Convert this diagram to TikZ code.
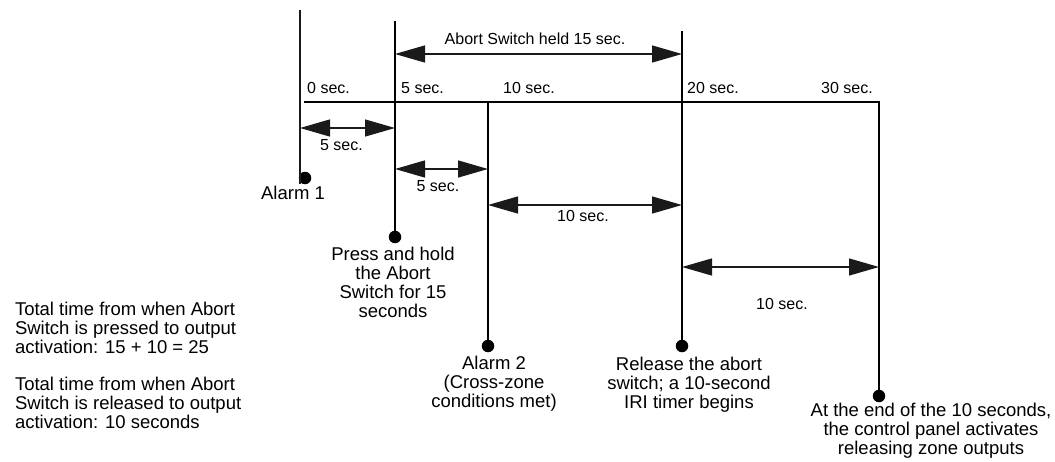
\documentclass[tikz,border=0pt]{standalone}
\usepackage{fontspec}
\setmainfont{Liberation Sans}
\usetikzlibrary{positioning,arrows.meta}
\definecolor{ink}{HTML}{000000}
\definecolor{shaft}{HTML}{1A1A1A}
\newcommand{\lblsize}{\fontsize{16}{19}\selectfont}
\newcommand{\descsize}{\fontsize{18.5}{19}\selectfont}

\begin{document}
\begin{tikzpicture}[x=1pt,y=-1pt,
  evline/.style={line width=2pt,draw=ink},
  dot/.style={circle,fill=ink,inner sep=0pt,outer sep=0pt,minimum size=12.5pt},
  desc/.style={font=\descsize,align=center,inner sep=0pt,outer sep=0pt},
  lbl/.style={font=\lblsize,inner sep=0pt},
  durarrow/.style={line width=1.3pt,draw=shaft,{Triangle[length=30pt,width=17pt]}-{Triangle[length=30pt,width=17pt]}}]
\useasboundingbox (0,0) rectangle (1055,461);

\coordinate (top0) at (300,10);
\coordinate (top5) at (395,21);
\coordinate (top20) at (682,31);
\coordinate (t0) at (304,102);
\coordinate (t10) at (488,102);
\coordinate (t30) at (879,102);

\node[dot] (dA1) at (305,178) {};
\node[dot] (dPress) at (395,237) {};
\node[dot] (dA2) at (488,346) {};
\node[dot] (dRel) at (682,346) {};
\node[dot] (dEnd) at (879,396) {};

\draw[line width=1.2pt,draw=shaft] (top0) -- (top0 |- dA1.south);
\draw[evline] (top5) -- (dPress);
\draw[evline] (t10) -- (dA2);
\draw[evline] (top20) -- (dRel);
\draw[evline,line join=miter] (t0) -- (t30) -- (dEnd);

\node[lbl,anchor=base west] (s0) at (307,93) {0 sec.};
\node[lbl,anchor=base west] (s5) at (401,93) {5 sec.};
\node[lbl,anchor=base west] (s10) at (503,93) {10 sec.};
\node[lbl,anchor=base west] (s20) at (687,93) {20 sec.};
\node[lbl,anchor=base east] (s30) at (873,93) {30 sec.};

\draw[durarrow] (top5 |- 0,54) -- (top20 |- 0,54)
  node[lbl,midway,above=9pt,xshift=-3.5pt] (lHeld) {Abort Switch held 15 sec.};
\draw[durarrow] (top0 |- 0,128) -- (top5 |- 0,128)
  node[lbl,midway,below=11pt,xshift=-6pt] (lA) {5 sec.};
\draw[durarrow] (top5 |- 0,169) -- (t10 |- 0,169)
  node[lbl,midway,below=11pt,xshift=-3.5pt] (lB) {5 sec.};
\draw[durarrow] (t10 |- 0,205) -- (top20 |- 0,205)
  node[lbl,midway,below=5pt,xshift=-2pt] (lC) {10 sec.};
\draw[durarrow] (top20 |- 0,267) -- (t30 |- 0,267)
  node[lbl,midway,below=31pt,xshift=1.5pt] (lD) {10 sec.};

\node[desc,below=2pt of dA1,xshift=-12pt] (nA1) {Alarm 1};
\node[desc,below=4pt of dPress,xshift=-2pt] (nPress) {Press and hold\\the Abort\\Switch for 15\\seconds};
\node[desc,below=4pt of dA2,xshift=6pt] (nA2) {Alarm 2\\(Cross-zone\\conditions met)};
\node[desc,below=5pt of dRel,xshift=7pt] (nRel) {Release the abort\\switch; a 10-second\\IRI timer begins};
\node[desc,below=1pt of dEnd,xshift=52pt] (nEnd) {At the end of the 10 seconds,\\the control panel activates\\releasing zone outputs};

\node[desc,align=left,anchor=north west] (notes) at (15,302)
  {Total time from when Abort\\Switch is pressed to output\\activation: 15 + 10 = 25\\[18pt]Total time from when Abort\\Switch is released to output\\activation: 10 seconds};
\end{tikzpicture}
\end{document}
